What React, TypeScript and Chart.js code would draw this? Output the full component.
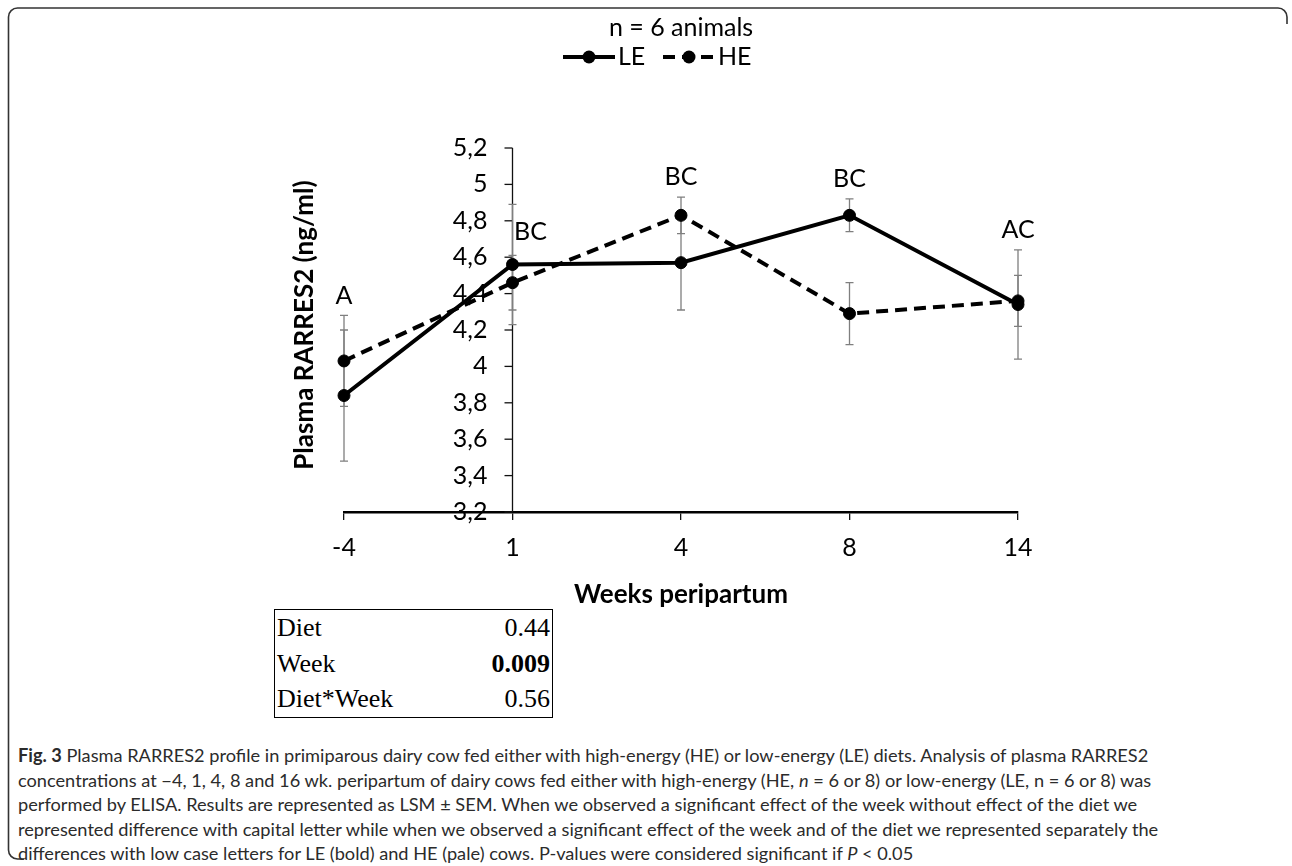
import React, { useEffect, useRef } from 'react';
import { Chart, registerables } from 'chart.js';

Chart.register(...registerables);

// ---------- data ----------
const weeks = ['-4', '1', '4', '8', '14'];
const leMeans = [3.84, 4.56, 4.57, 4.83, 4.34];
const leSem = [0.36, 0.33, 0.26, 0.09, 0.3];
const heMeans = [4.03, 4.46, 4.83, 4.29, 4.36];
const heSem = [0.25, 0.15, 0.1, 0.17, 0.14];
const weekLetters = ['A', 'BC', 'BC', 'BC', 'AC'];
const seriesNames = ['LE', 'HE'];
const yMin = 3.2;
const yMax = 5.2;
const yStep = 0.2;
const yAxisCrossIndex = 1;
const pTerms = ['Diet', 'Week', 'Diet*Week'];
const pValues = ['0.44', '0.009', '0.56'];
const pBold = [false, true, false];
const chartTitle = 'n = 6 animals';
const yTitle = 'Plasma RARRES2 (ng/ml)';
const xTitle = 'Weeks peripartum';

const FONT = 'Lato, "Open Sans", sans-serif';
const DASH = [12, 7];

const fmt = (v: number) => String(Math.round(v * 10) / 10).replace('.', ',');

const overlayPlugin = {
  id: 'overlay',
  beforeDatasetsDraw(chart: any) {
    const { ctx, chartArea, scales } = chart;
    const xs = scales.x;
    const ys = scales.y;
    const ax = xs.getPixelForValue(yAxisCrossIndex);
    ctx.save();
    // y axis line, ticks, labels
    ctx.strokeStyle = '#111';
    ctx.lineWidth = 1.3;
    ctx.beginPath();
    ctx.moveTo(ax, chartArea.top);
    ctx.lineTo(ax, chartArea.bottom);
    ctx.stroke();
    ctx.font = `25px ${FONT}`;
    ctx.fillStyle = '#000';
    ctx.textAlign = 'right';
    ctx.textBaseline = 'middle';
    ys.ticks.forEach((t: any) => {
      const py = ys.getPixelForValue(t.value);
      ctx.beginPath();
      ctx.moveTo(ax - 8, py);
      ctx.lineTo(ax, py);
      ctx.stroke();
      ctx.fillText(fmt(t.value), ax - 25, py);
    });
    // error bars
    ctx.strokeStyle = '#7f7f7f';
    ctx.lineWidth = 1.3;
    const sets: [number[], number[]][] = [
      [leMeans, leSem],
      [heMeans, heSem],
    ];
    sets.forEach(([m, s]) => {
      m.forEach((v, i) => {
        const px = xs.getPixelForValue(i);
        const top = ys.getPixelForValue(v + s[i]);
        const bot = ys.getPixelForValue(v - s[i]);
        ctx.beginPath();
        ctx.moveTo(px, top);
        ctx.lineTo(px, bot);
        ctx.moveTo(px - 4, top);
        ctx.lineTo(px + 4, top);
        ctx.moveTo(px - 4, bot);
        ctx.lineTo(px + 4, bot);
        ctx.stroke();
      });
    });
    ctx.restore();
  },
  afterDraw(chart: any) {
    const { ctx, chartArea, scales } = chart;
    const xs = scales.x;
    const ys = scales.y;
    const cx = (chartArea.left + chartArea.right) / 2;
    ctx.save();
    ctx.fillStyle = '#000';
    // title
    ctx.font = `25px ${FONT}`;
    ctx.textAlign = 'center';
    ctx.textBaseline = 'middle';
    ctx.fillText(chartTitle, cx, 28);
    // legend
    const legendY = 57;
    const items = [
      { x: 563, dash: [] as number[], label: seriesNames[0] },
      { x: 663, dash: DASH, label: seriesNames[1] },
    ];
    items.forEach((it) => {
      ctx.strokeStyle = '#000';
      ctx.lineWidth = 4;
      ctx.setLineDash(it.dash);
      ctx.beginPath();
      ctx.moveTo(it.x, legendY);
      ctx.lineTo(it.x + 52, legendY);
      ctx.stroke();
      ctx.setLineDash([]);
      ctx.beginPath();
      ctx.arc(it.x + 26, legendY, 6.5, 0, Math.PI * 2);
      ctx.fill();
      ctx.font = `25px ${FONT}`;
      ctx.textAlign = 'left';
      ctx.fillText(it.label, it.x + 55, legendY);
    });
    // week letters
    ctx.font = `25px ${FONT}`;
    ctx.textAlign = 'center';
    weekLetters.forEach((lab, i) => {
      const px = xs.getPixelForValue(i);
      const top = Math.min(
        ys.getPixelForValue(leMeans[i] + leSem[i]),
        ys.getPixelForValue(heMeans[i] + heSem[i])
      );
      let x = px;
      let y = top - 20;
      if (i === yAxisCrossIndex) {
        x = px + 18;
        y = top + 28;
      }
      ctx.fillText(lab, x, y);
    });
    // axis titles
    ctx.font = `bold 26px ${FONT}`;
    ctx.fillText(xTitle, cx, 595);
    ctx.translate(305, 325);
    ctx.rotate(-Math.PI / 2);
    ctx.fillText(yTitle, 0, 0);
    ctx.restore();
  },
};

function LineChart() {
  const ref = useRef<HTMLCanvasElement | null>(null);
  useEffect(() => {
    if (!ref.current) return;
    const chart = new Chart(ref.current, {
      type: 'line',
      data: {
        labels: weeks,
        datasets: [
          {
            label: seriesNames[0],
            data: leMeans,
            borderColor: '#000',
            backgroundColor: '#000',
            borderWidth: 4,
            pointRadius: 6,
            pointBorderWidth: 1,
            pointBackgroundColor: '#000',
            pointBorderColor: '#000',
            tension: 0,
            fill: false,
          },
          {
            label: seriesNames[1],
            data: heMeans,
            borderColor: '#000',
            backgroundColor: '#000',
            borderWidth: 4,
            borderDash: DASH,
            pointRadius: 6,
            pointBorderWidth: 1,
            pointBackgroundColor: '#000',
            pointBorderColor: '#000',
            tension: 0,
            fill: false,
          },
        ],
      },
      options: {
        animation: false,
        responsive: false,
        maintainAspectRatio: false,
        layout: { padding: { left: 344, right: 274, top: 148, bottom: 0 } },
        plugins: {
          legend: { display: false },
          title: { display: false },
          tooltip: { enabled: false },
        },
        scales: {
          x: {
            type: 'category',
            offset: false,
            grid: {
              offset: false,
              display: true,
              drawOnChartArea: false,
              drawTicks: true,
              tickLength: 8,
              color: '#111',
              lineWidth: 1.3,
            },
            border: { display: true, color: '#000', width: 2.5 },
            ticks: {
              color: '#000',
              font: { family: FONT, size: 25 },
              padding: 13,
              maxRotation: 0,
              autoSkip: false,
            },
            afterFit: (s: any) => {
              s.height = 128;
            },
          },
          y: {
            display: false,
            min: yMin,
            max: yMax,
            ticks: { stepSize: yStep },
          },
        },
      },
      plugins: [overlayPlugin],
    } as any);
    return () => chart.destroy();
  }, []);
  return (
    <canvas
      ref={ref}
      width={1292}
      height={640}
      style={{ position: 'absolute', left: 0, top: 0, width: 1292, height: 640 }}
    />
  );
}

const captionLines: React.ReactNode[] = [
  <>
    <b>Fig. 3</b> Plasma RARRES2 profile in primiparous dairy cow fed either with high-energy (HE) or
    low-energy (LE) diets. Analysis of plasma RARRES2
  </>,
  <>
    concentrations at −4, 1, 4, 8 and 16 wk. peripartum of dairy cows fed either with high-energy (HE,{' '}
    <i>n</i> = 6 or 8) or low-energy (LE, n = 6 or 8) was
  </>,
  <>
    performed by ELISA. Results are represented as LSM ± SEM. When we observed a significant effect of the
    week without effect of the diet we
  </>,
  <>
    represented difference with capital letter while when we observed a significant effect of the week and
    of the diet we represented separately the
  </>,
  <>
    differences with low case letters for LE (bold) and HE (pale) cows. P-values were considered significant
    if <i>P</i> &lt; 0.05
  </>,
];

export default function App() {
  return (
    <div style={{ position: 'absolute', left: 0, top: 0, width: 1292, height: 866, overflow: 'hidden' }}>
      <svg
        width={1292}
        height={866}
        style={{ position: 'absolute', left: 0, top: 0, pointerEvents: 'none' }}
      >
        <path
          d="M 8.5 850 L 8.5 17 A 9 9 0 0 1 17.5 8 L 1278 8 A 9 9 0 0 1 1287 17 L 1287 24"
          fill="none"
          stroke="#333"
          strokeWidth={1.6}
        />
        <path d="M 8.5 850 A 9 9 0 0 0 17.5 859 L 24 859" fill="none" stroke="#333" strokeWidth={1.6} />
      </svg>
      <LineChart />
      <div
        style={{
          position: 'absolute',
          left: 274,
          top: 609,
          width: 277,
          border: '1px solid #000',
          fontFamily: '"Liberation Serif", "Times New Roman", serif',
          fontSize: 26,
          color: '#000',
          background: '#fff',
        }}
      >
        {pTerms.map((t, i) => (
          <div
            key={t}
            style={{
              display: 'flex',
              justifyContent: 'space-between',
              height: 35.5,
              lineHeight: '36px',
              padding: '0 2px 0 2px',
            }}
          >
            <span>{t}</span>
            <span style={{ fontWeight: pBold[i] ? 'bold' : 'normal' }}>{pValues[i]}</span>
          </div>
        ))}
      </div>
      <div
        style={{
          position: 'absolute',
          left: 18,
          top: 743,
          fontFamily: FONT,
          fontSize: 18.2,
          color: '#2b2b2b',
        }}
      >
        {captionLines.map((l, i) => (
          <div key={i} style={{ height: 24.5, lineHeight: '24.5px', whiteSpace: 'nowrap' }}>
            {l}
          </div>
        ))}
      </div>
    </div>
  );
}
